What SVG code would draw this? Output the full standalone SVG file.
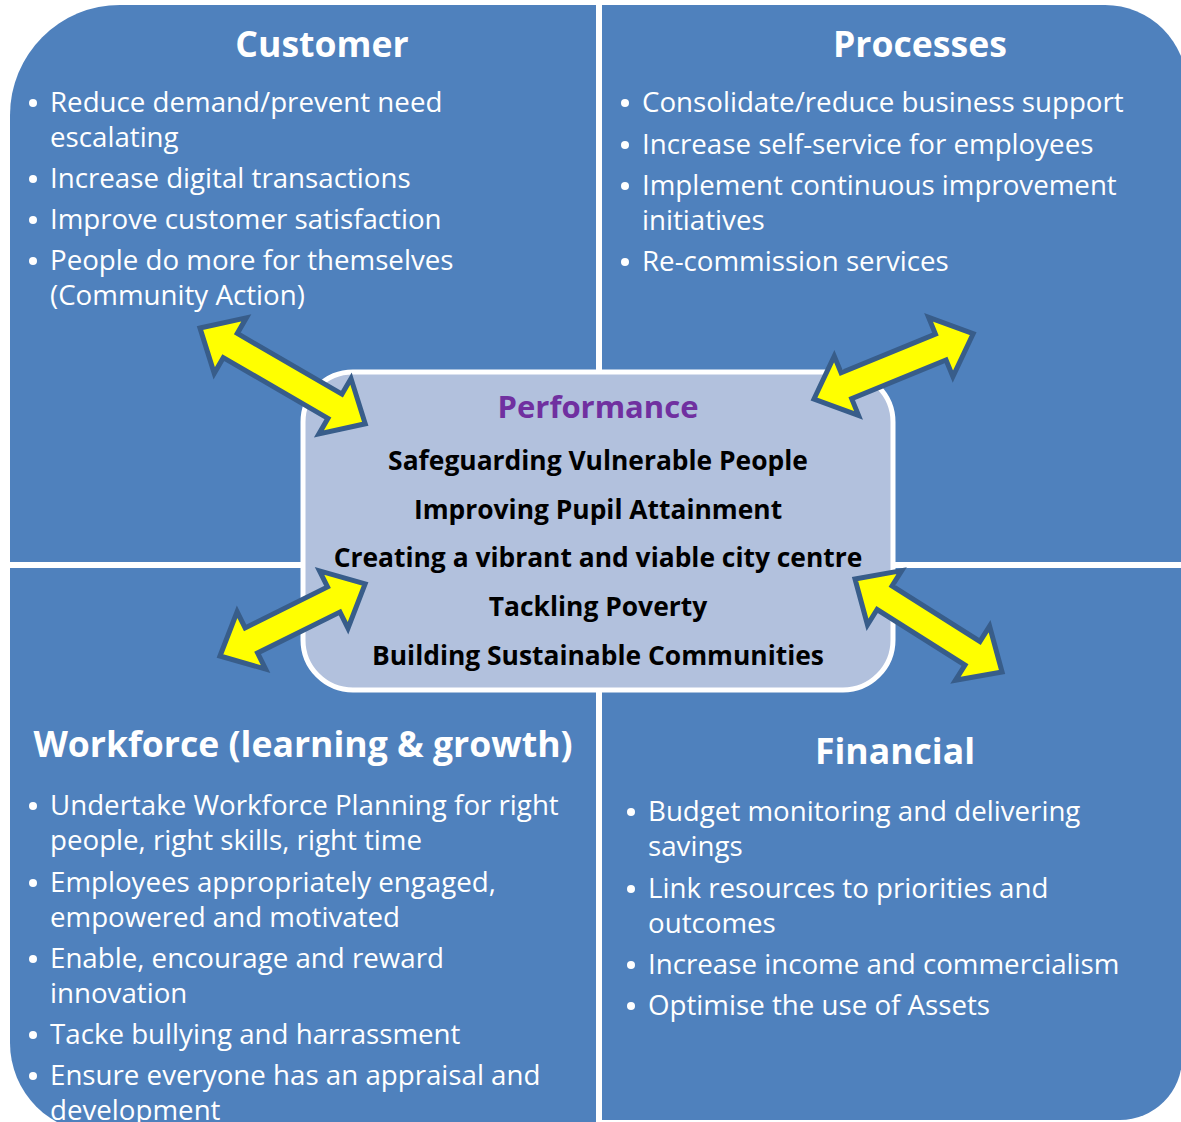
<svg xmlns="http://www.w3.org/2000/svg" width="1181" height="1122" viewBox="0 0 1181 1122">
<defs>
<style>
.quad{fill:#4F81BD;}
.title{font-family:"Open Sans","Liberation Sans",sans-serif;font-weight:bold;font-size:35.6px;fill:#FFFFFF;text-anchor:middle;}
.body{font-family:"Open Sans","Liberation Sans",sans-serif;font-size:27.7px;fill:#FFFFFF;}
.bul{fill:#FFFFFF;}
.center{fill:#B2C1DD;stroke:#FFFFFF;stroke-width:5;}
.perf{font-family:"Open Sans","Liberation Sans",sans-serif;font-weight:bold;font-size:31px;fill:#7030A0;text-anchor:middle;}
.goal{font-family:"Open Sans","Liberation Sans",sans-serif;font-weight:bold;font-size:26.4px;fill:#000000;text-anchor:middle;}
.arrow{fill:#FFFF00;stroke:#385D8A;stroke-width:5;stroke-linejoin:miter;}
</style>
</defs>
<rect width="1181" height="1122" fill="#FFFFFF"/>

<g id="customer">
<path class="quad" d="M10,562 V115 A110,110 0 0 1 120,5 H596 V562 Z"/>
<text class="title" x="322" y="57">Customer</text>
<circle class="bul" cx="33" cy="103" r="4"/>
<text class="body" x="50" y="112">Reduce demand/prevent need</text>
<text class="body" x="50" y="147">escalating</text>
<circle class="bul" cx="33" cy="179" r="4"/>
<text class="body" x="50" y="188">Increase digital transactions</text>
<circle class="bul" cx="33" cy="220" r="4"/>
<text class="body" x="50" y="229">Improve customer satisfaction</text>
<circle class="bul" cx="33" cy="261" r="4"/>
<text class="body" x="50" y="270">People do more for themselves</text>
<text class="body" x="50" y="305">(Community Action)</text>
</g>

<g id="processes">
<path class="quad" d="M602,5 H1105 A82,82 0 0 1 1187,87 V562 H602 Z"/>
<text class="title" x="920" y="57">Processes</text>
<circle class="bul" cx="625" cy="103" r="4"/>
<text class="body" x="642" y="112">Consolidate/reduce business support</text>
<circle class="bul" cx="625" cy="145" r="4"/>
<text class="body" x="642" y="154">Increase self-service for employees</text>
<circle class="bul" cx="625" cy="186" r="4"/>
<text class="body" x="642" y="195">Implement continuous improvement</text>
<text class="body" x="642" y="230">initiatives</text>
<circle class="bul" cx="625" cy="262" r="4"/>
<text class="body" x="642" y="271">Re-commission services</text>
</g>

<g id="workforce">
<path class="quad" d="M10,568 V1043 A90,90 0 0 0 100,1133 H596 V568 Z"/>
<text class="title" x="303" y="757">Workforce (learning &amp; growth)</text>
<circle class="bul" cx="33" cy="806" r="4"/>
<text class="body" x="50" y="815">Undertake Workforce Planning for right</text>
<text class="body" x="50" y="850">people, right skills, right time</text>
<circle class="bul" cx="33" cy="883" r="4"/>
<text class="body" x="50" y="892">Employees appropriately engaged,</text>
<text class="body" x="50" y="927">empowered and motivated</text>
<circle class="bul" cx="33" cy="959" r="4"/>
<text class="body" x="50" y="968">Enable, encourage and reward</text>
<text class="body" x="50" y="1003">innovation</text>
<circle class="bul" cx="33" cy="1035" r="4"/>
<text class="body" x="50" y="1044">Tacke bullying and harrassment</text>
<circle class="bul" cx="33" cy="1076" r="4"/>
<text class="body" x="50" y="1085">Ensure everyone has an appraisal and</text>
<text class="body" x="50" y="1120">development</text>
</g>

<g id="financial">
<path class="quad" d="M602,568 H1182 V1058 A62,62 0 0 1 1120,1120 H602 Z"/>
<text class="title" x="895" y="764">Financial</text>
<circle class="bul" cx="631" cy="812" r="4"/>
<text class="body" x="648" y="821">Budget monitoring and delivering</text>
<text class="body" x="648" y="856">savings</text>
<circle class="bul" cx="631" cy="889" r="4"/>
<text class="body" x="648" y="898">Link resources to priorities and</text>
<text class="body" x="648" y="933">outcomes</text>
<circle class="bul" cx="631" cy="965" r="4"/>
<text class="body" x="648" y="974">Increase income and commercialism</text>
<circle class="bul" cx="631" cy="1006" r="4"/>
<text class="body" x="648" y="1015">Optimise the use of Assets</text>
</g>

<g id="performance">
<rect class="center" x="303" y="372" width="590" height="318" rx="50" ry="50"/>
<text class="perf" x="598" y="418">Performance</text>
<text class="goal" x="598" y="470">Safeguarding Vulnerable People</text>
<text class="goal" x="598" y="519">Improving Pupil Attainment</text>
<text class="goal" x="598" y="567">Creating a vibrant and viable city centre</text>
<text class="goal" x="598" y="616">Tackling Poverty</text>
<text class="goal" x="598" y="665">Building Sustainable Communities</text>
</g>

<g id="connectors">
<path class="arrow" transform="translate(200,328) rotate(30.1)" d="M0,0 L35,-32 L35,-14 L156,-14 L156,-32 L191,0 L156,32 L156,14 L35,14 L35,32 Z"/>
<path class="arrow" transform="translate(814,399) rotate(-22.3)" d="M0,0 L35,-32 L35,-14 L137,-14 L137,-32 L172,0 L137,32 L137,14 L35,14 L35,32 Z"/>
<path class="arrow" transform="translate(220,656) rotate(-26.4)" d="M0,0 L35,-32 L35,-14 L127,-14 L127,-32 L162,0 L127,32 L127,14 L35,14 L35,32 Z"/>
<path class="arrow" transform="translate(855,579) rotate(32.3)" d="M0,0 L35,-32 L35,-14 L139,-14 L139,-32 L174,0 L139,32 L139,14 L35,14 L35,32 Z"/>
</g>
</svg>
